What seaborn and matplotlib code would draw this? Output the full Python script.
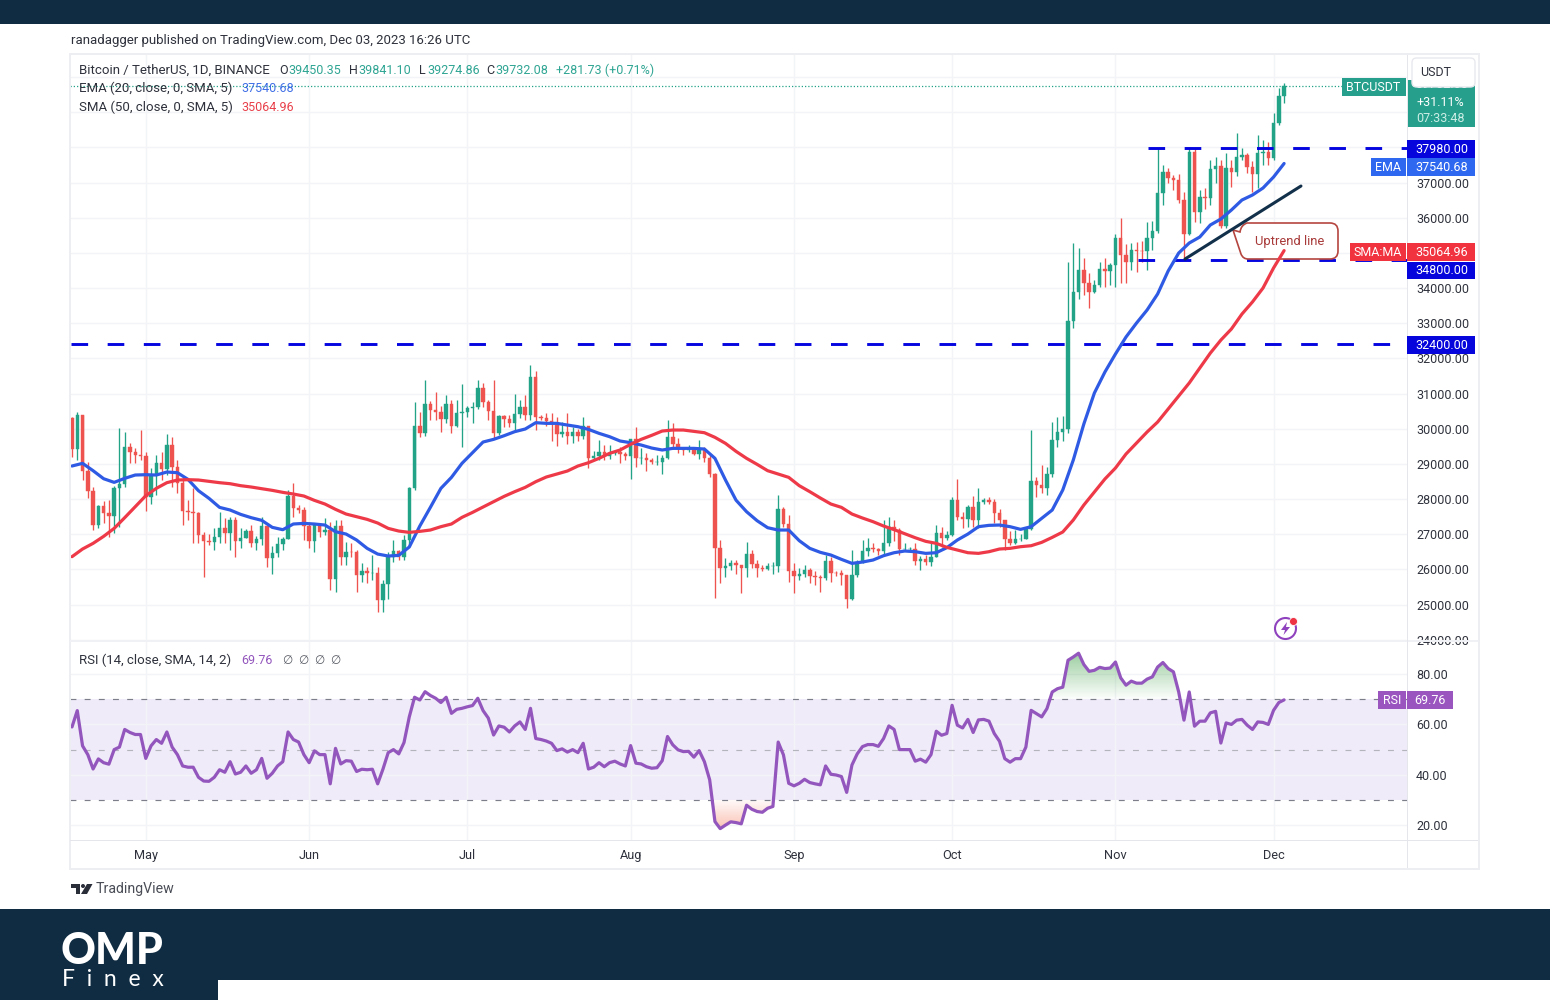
import numpy as np
import pandas as pd
import matplotlib
matplotlib.use("Agg")
import matplotlib.pyplot as plt
import seaborn as sns
from matplotlib.patches import Rectangle, PathPatch, Circle, Polygon, FancyBboxPatch
from matplotlib.path import Path
from matplotlib.transforms import IdentityTransform

closes = [29430,30380,28800,28240,27260,27810,27590,27510,28300,28420,29470,29340,29240,29230,
28070,28670,29030,28840,29530,28900,28450,27660,27620,27600,26980,26800,26780,26920,27170,27030,27400,26820,26890,27100,26750,26850,27220,26330,26470,26720,26870,28080,27740,27700,27220,
26820,27250,27070,27120,25730,27230,26340,26500,26480,25850,25940,25900,25900,25120,25580,26340,26510,26340,26840,28310,30090,29890,30690,30530,30470,30270,30690,30080,30440,30470,
30590,30620,31150,30770,30510,29890,30350,30290,30170,30410,30620,30380,31470,30320,30300,30230,30140,29860,29910,29800,29900,29790,30080,29180,29230,29350,29210,29320,29350,29270,29230,
29700,29170,29180,29100,29040,29050,29180,29770,29560,29430,29400,29420,29280,29400,29170,28700,26620,26050,26100,26190,26120,26050,26430,26160,26050,26010,26090,26100,27720,27300,25940,
25800,25870,25970,25820,25780,25750,26240,25900,25890,25830,25160,25840,26220,26530,26600,26570,26530,26760,27210,27130,26570,26580,26580,26250,26300,26210,26350,27030,26900,26970,
27980,27500,27430,27780,27410,27930,27960,27930,27590,27390,26870,26760,26860,26860,27150,28500,28400,28320,28710,29680,29920,29990,33070,33900,34500,34150,33900,34090,34530,34490,34660,
35420,34940,34730,35080,35050,35040,35420,35630,36690,37310,37130,37060,36490,35550,37880,36160,36600,36570,37380,37470,35750,37420,37290,37720,37790,37450,37240,37830,37860,37710,
38680,39460,39732.08]

opens = [30300,29430,30380,28800,28240,27260,27810,27590,27510,28300,28420,29470,29340,29240,
29230,28070,28670,29030,28840,29530,28900,28450,27660,27620,27600,26980,26800,26780,26920,27170,27030,27400,26820,26890,27100,26750,26850,27220,26330,26470,26720,26870,28080,27740,27700,
27220,26820,27250,27070,27120,25730,27230,26340,26500,26480,25850,25940,25900,25900,25120,25580,26340,26510,26340,26840,28310,30090,29890,30690,30530,30470,30270,30690,30080,30440,
30470,30590,30620,31150,30770,30510,29890,30350,30290,30170,30410,30620,30380,31470,30320,30300,30230,30140,29860,29910,29800,29900,29790,30080,29180,29230,29350,29210,29320,29350,29270,
29230,29700,29170,29180,29100,29040,29050,29180,29770,29560,29430,29400,29420,29280,29400,29170,28700,26620,26050,26100,26190,26120,26050,26430,26160,26050,26010,26090,26100,27720,27300,
25940,25800,25870,25970,25820,25780,25750,26240,25900,25890,25830,25160,25840,26220,26530,26600,26570,26530,26760,27210,27130,26570,26580,26580,26250,26300,26210,26350,27030,26900,
26970,27980,27500,27430,27780,27410,27930,27960,27930,27590,27390,26870,26760,26860,26860,27150,28500,28400,28320,28710,29680,29920,29990,33070,33900,34500,34150,33900,34090,34530,34490,
34660,35420,34940,34730,35080,35050,35040,35420,35630,36690,37310,37130,37060,36490,35550,37880,36160,36600,36570,37380,37470,35750,37420,37290,37720,37790,37450,37240,37830,37860,
37710,38680,39450.35]

highs = [30320,30480,30400,29060,28350,27830,27950,27970,28380,30030,29900,29580,29440,29960,
29340,28890,29250,29350,29850,29770,29110,28620,27970,28320,27640,27050,27020,27190,27640,27450,27490,27480,27170,27150,27260,26950,27500,27220,26660,26930,26930,28250,28450,27830,27780,
27350,27300,27300,27450,27350,27400,27400,26790,26740,26540,26170,26070,26400,26080,25700,26500,26830,26550,26990,28350,30770,30480,31380,30800,31030,30650,30960,30815,30815,31270,
30650,30770,31375,31290,30815,31385,30390,30390,30380,31000,30815,30960,31810,31630,30390,30450,30440,30340,30190,30440,30050,30000,30322,30090,29380,29680,29530,29530,29380,29490,29340,
29720,30060,29440,29300,29170,29240,29250,30240,30150,29730,29490,29530,29490,29680,29490,29250,28750,26830,26310,26270,26270,26120,26780,26550,26280,26130,26170,26220,28110,27780,27540,
26170,26030,26120,26050,25950,25850,26410,26360,25950,25980,25840,26550,26270,26830,26880,26740,26620,27400,27480,27400,27170,26740,26640,26740,26370,26400,26790,27260,27210,27080,
28060,28570,27640,27830,28080,28300,28020,28060,28000,27730,27400,27100,27120,27000,27200,29960,28620,28970,28920,30200,30340,30350,34750,35270,35130,34840,34420,34240,34750,34840,34700,
35550,35980,35260,35280,35320,35350,35880,35900,37970,37500,37400,37210,37230,36740,37980,37980,36785,36850,37640,37735,37640,37830,37650,38420,37980,37840,37620,38350,38220,38160,
38965,39680,39841.10]

lows = [29200,29110,28540,28020,27120,27165,27310,26930,27040,27200,28350,29015,29015,29110,
27660,27870,28110,28540,28670,28350,28160,27260,27400,26740,26740,25790,26700,26560,26740,26740,26550,26360,26600,26880,26650,26550,26680,26070,25880,26360,26550,26850,27500,27600,26830,
26600,26500,26930,26980,25410,25360,26120,26120,26360,25360,25650,25600,25700,24800,24800,25170,26215,26260,26260,26660,28260,29770,29800,30250,30250,29900,30150,29870,30056,29490,
30330,30150,30560,30620,30250,29700,29820,30060,30060,29950,30300,30250,30250,29960,30250,30080,29660,29500,29770,29570,29600,29640,29720,28870,29110,29100,29110,29125,29260,29015,29100,
28580,28920,29010,28800,29000,28960,28700,29150,29410,29320,29250,29350,29250,29140,29060,28640,25180,25600,25790,25980,25880,25320,25790,26030,25790,25960,25980,25880,25930,27210,25650,
25320,25710,25790,25600,25550,25365,25700,25650,25800,25550,24890,25120,25790,26170,26380,26500,26400,26380,26670,26800,26410,26520,26520,26120,25980,26120,26110,26340,26650,26830,
26950,27400,27170,27210,27210,27170,27870,27860,27310,27210,26550,26700,26720,26820,26850,27120,28070,28160,28110,28620,29490,29640,29880,32850,33700,33800,33420,33850,34040,34040,34100,
34040,34130,34130,34520,34460,34730,34510,35080,35560,36360,37000,36780,36410,34800,35500,35880,35840,36240,36370,37000,35700,35700,36870,37180,37630,37260,36740,36830,37500,37500,
37640,38640,39274.86]

ma_days = list(range(0, 231, 2))
ema20 = [28939,29015,28806,28578,28474,28588,28683,28692,28683,28768,28749,28560,28237,28019,27763,27688,27564,27470,27394,27195,27128,27290,27308,27290,27261,27071,27005,26835,26598,26436,26380,26399,26636,27233,27763,28304,28616,29015,29318,29621,29697,29801,29915,29991,30171,30152,
30152,30104,30057,29981,29868,29773,29650,29602,29536,29450,29394,29441,29441,29441,29422,29157,28541,27968,27640,27384,27185,27119,27119,26816,26598,26484,26408,26285,26171,26209,26266,26389,26474,26522,26503,26455,26474,26617,26835,27005,27214,27252,27261,27214,27138,27214,27451,27688,
28257,29110,30133,31015,31612,32124,32607,33005,33375,33830,34484,34995,35280,35450,35792,35962,36218,36502,36645,36844,37156,37540.68]
sma50 = [26361,26579,26740,26939,27166,27470,27782,28095,28304,28465,28541,28550,28541,28503,28465,28436,28380,28342,28294,28247,28190,28143,28086,27962,27858,27707,27574,27498,27422,27318,27166,27090,27052,27081,27119,27214,27290,27479,27620,27773,27925,28076,28209,28332,28493,28626,
28711,28797,28939,29033,29157,29299,29394,29555,29697,29811,29934,29962,29962,29924,29886,29754,29583,29356,29157,28986,28806,28711,28616,28380,28209,28029,27858,27763,27574,27460,27356,27233,27130,27015,26900,26797,26740,26626,26550,26474,26455,26503,26579,26598,26645,26673,26768,26910,
27063,27404,27830,28200,28570,28882,29280,29593,29906,30190,30560,30930,31300,31726,32150,32520,32835,33260,33605,34000,34570,35064.96]

rsi = [59,65.5,51.5,48,42.3,46.3,44.8,44.2,50,51,58,56.8,56,56,46.5,51.5,54,52.5,57,51,48,43.5,43,43,39,37.5,37.4,39,42,41,45.2,40.3,41,43.5,40.6,42,46.5,38.6,40.6,43.5,45.2,57,54,53,48,44.8,49.5,48,48,36.4,50.5,44.3,45.6,45.4,41.3,42.2,42,42.2,36.4,42.2,48.8,50,48.3,52.8,63,70.8,69.7,73,71.5,70.4,68.7,70.8,64.4,66,66.4,67,
67.5,70.4,65.5,62.5,55.8,59.4,58.9,57,59.4,61,58,66.4,54.4,54,53.4,52.5,49.6,50.3,49,50,48.8,52.5,42.3,43,44.8,43.2,44.8,45.4,44.3,43.5,51.6,44.6,44.3,43.2,42.6,42.8,45.6,55.2,51.9,49.9,49.2,49.3,47,49.6,45.2,38,21.4,18.6,20,21.3,21,20.5,27.9,26.3,25.4,25.1,26.7,27.4,53,47.9,36.6,35.6,36.6,38.2,36.9,36.4,36,43.5,40.2,39.9,39.3,33,43.9,48.3,51.2,52,
52,51.3,54.4,59.4,58,50,50,50,45.4,46.2,45,48,57.3,55.7,56.4,67.6,59.7,58.6,62,56.8,61.8,62,61.3,56.4,53.3,46.4,45,46.4,46.4,51,65.6,64.3,63,66.3,72.9,74.2,74.8,85.5,86.8,88.3,83.8,81.1,81.5,82.7,82.2,82.4,84.8,78.5,75.6,77.2,76.4,76.4,78,78.9,82.8,84.6,82.2,80.9,72.9,61.7,72.9,59.3,61.3,61.3,64.6,65.2,52.6,60.6,60,61.7,62,59.7,58,61,60.8,60,65.6,68.7,69.76]

month_labels = ["May","Jun","Jul","Aug","Sep","Oct","Nov","Dec"]
month_days = [14,45,75,106,137,167,198,228]
price_ticks = list(range(24000, 41000, 1000))
rsi_ticks = [20,40,60,80]
rsi_levels = [70,50,30]
level_prices = [37980,34800,32400]
level_start_days = [204.2,202.3,-0.2]
trend_days = [211.2,233.2]
trend_prices = [34825,36900]

W, H = 1550, 1000
NAVY = "#0f2c42"; GREEN = "#22a286"; RED = "#ef5350"; BLUE = "#2f5be4"; SMA_RED = "#ee3a48"
PURPLE = "#9356bd"; LEVEL = "#0505e0"; TXT = "#2f323c"

sns.set_theme(style="white")
plt.rcParams["font.family"] = ["Roboto", "DejaVu Sans"]
fig = plt.figure(figsize=(W/100, H/100), dpi=100, facecolor="white")

def axrect(x0, y0, x1, y1):
    return [x0/W, 1-y1/H, (x1-x0)/W, (y1-y0)/H]

def rect(x0, y0, x1, y1, color, z=5):
    fig.add_artist(Rectangle((x0/W, 1-y1/H), (x1-x0)/W, (y1-y0)/H, transform=fig.transFigure,
                             facecolor=color, edgecolor="none", zorder=z))

def label(x, y, s, color=TXT, size=9, ha="left", z=7, **kw):
    fig.text(x/W, 1-(y+0.8)/H, s, color=color, fontsize=size, ha=ha, va="center", zorder=z, **kw)

def P(x, y):
    return (x/W, 1-y/H)

def pxcircle(x, y, r, **kw):
    fig.add_artist(Circle((x, H-y), r, transform=IdentityTransform(), **kw))

ax = fig.add_axes(axrect(70, 54, 1407, 640), zorder=0)
rs = fig.add_axes(axrect(70, 641, 1407, 840), zorder=1)

days = np.arange(len(closes))
o, c, h, l = map(np.array, (opens, closes, highs, lows))
colors = np.where(c >= o, GREEN, RED)

ax.set_axisbelow(True)
ax.vlines(days, l, h, colors=colors, lw=0.95, zorder=2)
ax.bar(days, np.abs(c-o), bottom=np.minimum(o, c), width=0.66, color=colors, edgecolor=colors, lw=0.3, zorder=3)

for p, start in zip(level_prices, level_start_days):
    ax.plot([start, 254], [p, p], color=LEVEL, lw=2.1, ls=(0, (5.7, 6.7)), zorder=4)

ax.axhline(closes[-1], xmax=(1342-70)/(1407-70), color=GREEN, lw=0.9, ls=(0, (1, 1.6)), zorder=3)

path = Path([P(1247,223),P(1330,223),P(1338,223),P(1338,231),P(1338,251),P(1338,259),P(1330,259),P(1248,259),
             P(1243,259),P(1241,254),P(1233,230),P(1240,232),P(1241,225),P(1247,223),P(1247,223)],
            [Path.MOVETO,Path.LINETO,Path.CURVE3,Path.CURVE3,Path.LINETO,Path.CURVE3,Path.CURVE3,Path.LINETO,
             Path.CURVE3,Path.CURVE3,Path.LINETO,Path.LINETO,Path.CURVE3,Path.CURVE3,Path.CLOSEPOLY])
ax.add_patch(PathPatch(path, transform=fig.transFigure, facecolor="white", edgecolor="#b5453f", lw=1.2, zorder=4.5, clip_on=False))
ax.text(1290/W, 1-241.5/H, "Uptrend line", transform=fig.transFigure, color="#a83a3a", fontsize=9.4, ha="center", va="center", zorder=4.6)

ax.plot(trend_days, trend_prices, color="#12304a", lw=2.2, zorder=5, solid_capstyle="round")
sns.lineplot(x=[days[i] for i in ma_days], y=ema20, ax=ax, color=BLUE, lw=2.3, zorder=6, legend=False)
sns.lineplot(x=[days[i] for i in ma_days], y=sma50, ax=ax, color=SMA_RED, lw=2.3, zorder=6, legend=False)

xlim = ((70-72)/5.27, (1407-72)/5.27)
GRID = "#f3f4f7"
ax.set_xlim(xlim)
ax.set_ylim(23992, 40654)
ax.set_yticks(price_ticks)
ax.set_yticklabels([f"{t}.00" for t in price_ticks])
ax.yaxis.tick_right()
ax.set_xticks(month_days)
ax.tick_params(axis="x", length=0, labelbottom=False)
ax.tick_params(axis="y", length=0, pad=6.5, labelsize=9, labelcolor=TXT)
ax.grid(True, color=GRID, lw=1)
ax.set_xlabel(""); ax.set_ylabel("")
for s in ax.spines.values():
    s.set_visible(False)

# RSI pane
r = np.array(rsi)
rs.axhspan(30, 70, color="#f0ebf9", zorder=0.5, lw=0)
rs.set_axisbelow(True)

def grad_fill(i0, i1, base, extreme, rgb, alpha_base, alpha_extreme):
    xs = days[i0:i1+1].astype(float)
    ys = r[i0:i1+1]
    poly = rs.fill_between(xs, ys, base, where=(ys >= base) if extreme > base else (ys <= base),
                           interpolate=True, facecolor="none", edgecolor="none")
    compound = Path.make_compound_path(*poly.get_paths())
    grad = np.zeros((64, 1, 4))
    grad[..., :3] = rgb
    top, bottom = (alpha_extreme, alpha_base) if extreme > base else (alpha_base, alpha_extreme)
    grad[:, 0, 3] = np.linspace(top, bottom, 64)
    im = rs.imshow(grad, extent=(xs[0], xs[-1], min(base, extreme), max(base, extreme)),
                   aspect="auto", zorder=1.2, origin="upper")
    im.set_clip_path(compound, transform=rs.transData)

grad_fill(185, 212, 70, 89, (0.35, 0.68, 0.38), 0.02, 0.62)
grad_fill(120, 135, 30, 18, (0.97, 0.55, 0.45), 0.03, 0.55)

for lv in rsi_levels:
    rs.axhline(lv, color="#7c7f8a" if lv != 50 else "#b4b4bc", lw=0.85, ls=(0, (5, 7)), zorder=1.5)
sns.lineplot(x=days, y=r, ax=rs, color=PURPLE, lw=2.3, zorder=3, legend=False)

rs.set_xlim(xlim)
rs.set_ylim(20-(840-825.1)/2.517, 80+(674.1-641)/2.517)
rs.set_yticks(rsi_ticks)
rs.set_yticklabels([f"{t}.00" for t in rsi_ticks])
rs.yaxis.tick_right()
rs.set_xticks(month_days)
rs.set_xticklabels(month_labels)
rs.tick_params(axis="x", length=0, pad=6.6, labelsize=9.2, labelcolor=TXT)
rs.tick_params(axis="y", length=0, pad=6.5, labelsize=9, labelcolor=TXT)
rs.grid(True, color=GRID, lw=1)
rs.set_xlabel(""); rs.set_ylabel("")
for s in rs.spines.values():
    s.set_visible(False)

# frame
FRAME = "#eceef2"
rect(69, 53, 71, 870, FRAME, 4)
rect(69, 53, 1480, 55, FRAME, 4)
rect(1478, 53, 1480, 870, FRAME, 4)
rect(69, 868, 1480, 870, FRAME, 4)
rect(70, 640, 1478, 641.5, "#f0f1f5", 4)
rect(70, 840, 1478, 841, "#e4e6ec", 4)
rect(1407, 55, 1408, 868, "#e4e6ec", 4)

# bands
rect(0, 0, W, 24, NAVY, 9)
rect(0, 909, W, 1000, NAVY, 9)
rect(218, 980, W, 1000, "white", 9.5)

# texts
SZ = 9.5
label(71, 39.5, "ranadagger published on TradingView.com, Dec 03, 2023 16:26 UTC", size=SZ)
label(79, 69.5, "Bitcoin / TetherUS, 1D, BINANCE", size=SZ)
TEAL = "#2fa593"
for x, s, col in [(279,"O",TXT),(288,"39450.35",TEAL),(349,"H",TXT),(358,"39841.10",TEAL),(419,"L",TXT),(427,"39274.86",TEAL),
                  (486,"C",TXT),(495,"39732.08",TEAL),(556,"+281.73 (+0.71%)",TEAL)]:
    label(x, 69.5, s, col)
label(79, 88, "EMA (20, close, 0, SMA, 5)", size=SZ)
label(241, 88, "37540.68", "#3f6fe6")
label(79, 106.5, "SMA (50, close, 0, SMA, 5)", size=SZ)
label(241, 106.5, "35064.96", "#e8404a")
label(79, 659.5, "RSI (14, close, SMA, 14, 2)", size=SZ)
label(241, 659.5, "69.76", PURPLE)
label(283, 659.5, "∅  ∅  ∅  ∅", "#5a5d66", 8.5)

# right scale tags
TAGGREEN = "#26a08c"
rect(1342, 78, 1406, 96, TAGGREEN, 6)
label(1373, 86.5, "BTCUSDT", "white", 9, "center")
rect(1408, 80, 1475, 127, TAGGREEN, 6)
label(1442, 84, "39732.08", "white", 9, "center")
label(1416, 101.5, "+31.11%", "white", 9)
label(1416, 117.5, "07:33:48", "#cdeee6", 9)
fig.add_artist(FancyBboxPatch((1412/W, 1-87/H), 63/W, 29/H, boxstyle="round,pad=0,rounding_size=0.003",
                              transform=fig.transFigure, facecolor="white", edgecolor="#e8e9ee", lw=1, zorder=7.5, mutation_aspect=1.5))
label(1436, 72, "USDT", TXT, 9, "center", z=8)
for y0, y1, txt in [(140,157.5,"37980.00"),(262,279,"34800.00"),(336,354,"32400.00")]:
    rect(1407, y0, 1475, y1, "#0505dc", 6)
    label(1442, (y0+y1)/2-0.5, txt, "white", 9, "center")
rect(1371, 158, 1406, 176, "#2f68f0", 6)
rect(1407, 158, 1475, 176, "#2f68f0", 6)
label(1388.5, 166.5, "EMA", "white", 9, "center")
label(1442, 166.5, "37540.68", "white", 9, "center")
rect(1350, 243, 1406, 261, "#f1323f", 6)
rect(1407, 243, 1475, 261, "#f1323f", 6)
label(1378, 251.5, "SMA:MA", "white", 9, "center")
label(1442, 251.5, "35064.96", "white", 9, "center")
rect(1378, 691, 1406, 709, "#9a55bf", 6)
rect(1407, 691, 1453, 709, "#9a55bf", 6)
label(1392, 699.5, "RSI", "white", 9, "center")
label(1430, 699.5, "69.76", "white", 9, "center")

# lightning badge
pxcircle(1285.5, 628.5, 10.5, facecolor="white", edgecolor="#8f42bd", lw=1.5, zorder=6)
fig.add_artist(Polygon([P(1287,622),P(1281,630),P(1285,630),P(1283.5,635),P(1290,627),P(1286,627)], transform=fig.transFigure,
                       facecolor="#8f42bd", edgecolor="none", zorder=6.5))
pxcircle(1293.5, 621.5, 4, facecolor="#ee3344", edgecolor="white", lw=0.6, zorder=6.6)

# TradingView mark
LOGO = "#2a2e39"
rect(71, 884, 80, 887.5, LOGO, 6)
rect(76, 884, 80, 894, LOGO, 6)
pxcircle(83, 886, 2, facecolor=LOGO, edgecolor="none", zorder=6)
fig.add_artist(Polygon([P(87,884),P(92.5,884),P(87,894),P(81,894)], transform=fig.transFigure, facecolor=LOGO, edgecolor="none", zorder=6))
label(96, 888.5, "TradingView", "#4a4d56", 10.2)

# brand
label(61, 950.5, "OMP", "white", 31, weight="black", family="Lato", z=11)
label(62, 978.5, "F  i  n  e  x", "white", 16.5, family="Lato", z=11)

fig.savefig("out.png", dpi=100)
